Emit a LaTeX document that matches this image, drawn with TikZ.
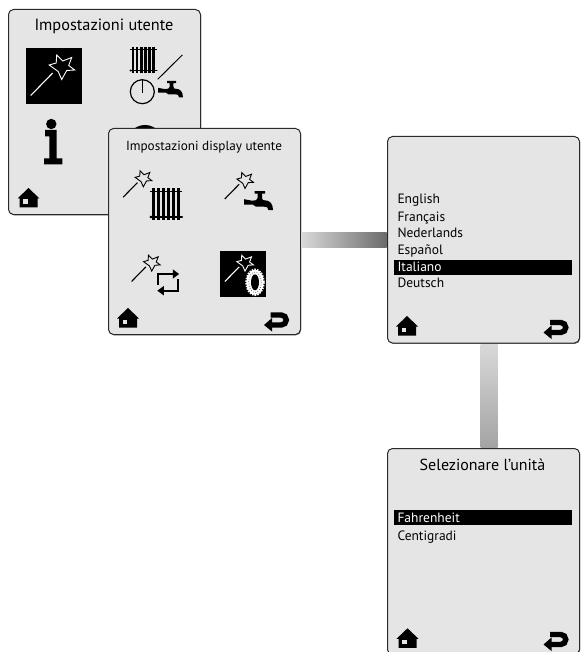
\documentclass[tikz,border=0pt]{standalone}
\usepackage{fontspec}
\setmainfont{PT Sans}
\usetikzlibrary{calc,shadows}
\definecolor{panelbg}{HTML}{E5E5E5}
\definecolor{panelln}{HTML}{2A2A2A}
\tikzset{
  panel/.style={draw=panelln,fill=panelbg,line width=1pt,rounded corners=5pt,inner sep=0pt,anchor=north west,
    drop shadow={shadow xshift=.6pt,shadow yshift=-.8pt,fill=black!55,opacity=1}},
  hl/.style={fill=black,draw=none,inner sep=0pt,anchor=north west,minimum width=178pt,minimum height=15pt},
  titletxt/.style={inner sep=0pt,anchor=base,text=black},
  itemtxt/.style={inner sep=0pt,anchor=base west,text=black,font=\fontsize{13.5}{16}\selectfont},
  blacksq/.style={fill=black,draw=none,inner sep=0pt,anchor=north west},
  pics/wand/.style={code={
    \draw[line width=.9pt,line join=miter] (-5,-12.5) -- (1,-6.5) -- (10,-10) -- (7,-2) -- (13,2.5) -- (5,3) -- (0,12) -- (-3.5,4) -- (-12.5,-2.5) -- (-5.5,-4.5) -- cycle;
    \draw[line width=1.1pt] (-31,28) -- (-9,5.5);
  }},
  pics/radiator/.style={code={
    \foreach \x in {3.2,7.6,12,16.4,20.8,25.2}{\draw[line width=2.6pt] (\x,0) -- (\x,26);}
    \draw[line width=1.6pt] (0,2.5) -- (28.5,2.5);
    \draw[line width=1.6pt,line cap=round] (.5,23.5) -- (28.5,23.5);
    \fill (.8,23.5) circle (1.2);
  }},
  pics/tap/.style={code={
    \fill (0,8.5) -- (0,14) -- (9,14) -- (12,16) -- (20,16) .. controls (23,16) and (24,16.5) .. (24.5,19.5) -- (29,19.5) .. controls (29,13) and (26,9.5) .. (20,9.5) -- (19,9.5) -- (18,7.5) -- (18,3) -- (21,3) -- (21,.5) -- (10.5,.5) -- (10.5,3) -- (13.5,3) -- (13.5,7.5) -- (12,9.5) -- (8,10) -- cycle;
  }},
  pics/home/.style={code={
    \fill (0,0) -- (11,10.5) -- (9,10.5) -- (9,19.5) -- (-9,19.5) -- (-9,10.5) -- (-11,10.5) -- cycle;
    \fill[panelbg] (-5.5,11.5) rectangle (-1,16);
  }},
  pics/retarrow/.style={code={
    \fill (0,13) -- (8,6) -- (8,19.5) -- cycle;
    \draw[line width=5.4pt] (7,13) -- (17.3,13) arc[start angle=90,end angle=-90,radius=5] -- (6.7,3);
  }},
  pics/loopar/.style={code={
    \draw[line width=2.3pt] (1,15.7) -- (1,4.7) -- (16,4.7);
    \fill (21.7,4.7) -- (15.5,0) -- (15.5,9.4) -- cycle;
    \draw[line width=2.3pt] (21,9.9) -- (21,21.4) -- (6,21.4);
    \fill (0,21.4) -- (6.5,16.7) -- (6.5,26.1) -- cycle;
  }},
}
\begin{document}
\begin{tikzpicture}[x=1pt,y=-1pt]
\useasboundingbox (0,0) rectangle (580,652);
% panel 1
\node[panel,minimum width=192pt,minimum height=205pt] (p1) at (8,9) {};
\node[titletxt,font=\fontsize{16.3}{18}\selectfont] (t1) at (104,31) {Impostazioni utente};
\node[blacksq,minimum width=56pt,minimum height=56pt] (sq1) at (26,48) {};
\pic[color=white] at (61.7,67.5) {wand};
\pic[xscale=.94] at (130,47) {radiator};
\draw[line width=1pt] (157.7,79.3) -- (182.3,55);
\draw[line width=1.2pt] (142.3,91.7) circle (12);
\draw[line width=1.2pt] (142.3,80) -- (142.3,93);
\pic[scale=.86] at (158,80.5) {tap};
\fill (51.3,124) circle (5.2);
\fill (45,130) -- (56.7,130) -- (56.7,158.3) -- (62.3,158.3) -- (62.3,164.3) -- (44,164.3) -- (44,158.3) -- (49.3,158.3) -- (49.3,136.5) -- (45,136.5) -- cycle;
\fill (145,143) circle (18);
\pic at (28.5,188) {home};
% other panels
\node[panel,minimum width=192pt,minimum height=206pt] (p2) at (108,128) {};
\node[panel,minimum width=192pt,minimum height=206.5pt] (p3) at (387,136) {};
\node[panel,minimum width=192pt,minimum height=206pt] (p4) at (387,448) {};
% connectors
\shade[left color=black!15,right color=black!58] ($(p2.east)+(.5,1)$) rectangle ($(p3.west |- p2.east)+(-.5,16)$);
\shade[top color=black!15,bottom color=black!36] ($(p3.south)+(-3,.5)$) rectangle ($(p4.north)+(14,-.5)$);
% panel 2 content
\node[titletxt,font=\fontsize{13.2}{16}\selectfont] (t2) at (204,150.5) {Impostazioni display utente};
\pic[scale=.65] at (143.3,179) {wand};
\pic[xscale=1.13,yscale=1.22] at (150,188.3) {radiator};
\pic[scale=.65] at (245,180.7) {wand};
\pic at (244,190.7) {tap};
\pic[scale=.65] at (151.7,263.3) {wand};
\pic at (157.3,269.3) {loopar};
\node[blacksq,minimum width=45.7pt,minimum height=45.7pt] (sq2) at (220,251) {};
\pic[scale=.65,color=white] at (245,263.3) {wand};
\fill[white] (255,282.3) ellipse [x radius=8.6,y radius=12.6];
\draw[white,line width=1.6pt,dash pattern=on 1.5pt off 1.2pt] (255,282.3) ellipse [x radius=9,y radius=13];
\draw[black!70,line width=.6pt,dash pattern=on .8pt off 1.6pt] (255,282.3) ellipse [x radius=6.3,y radius=10.2];
\fill[black] (255,282.3) ellipse [x radius=4,y radius=8];
\pic at (128,308) {home};
\pic at (264,312) {retarrow};
% panel 3 content
\node[hl] (h3) at (394,260) {};
\node[itemtxt] (e1) at (397.3,203.3) {English};
\node[itemtxt] (e2) at (397.3,221) {Français};
\node[itemtxt] (e3) at (397.3,237.7) {Nederlands};
\node[itemtxt] (e4) at (397.3,254) {Español};
\node[itemtxt,text=white] (e5) at (397.3,271) {Italiano};
\node[itemtxt] (e6) at (397.3,287.7) {Deutsch};
\pic at (407,316) {home};
\pic at (543.5,319.5) {retarrow};
% panel 4 content
\node[titletxt,font=\fontsize{16}{18}\selectfont] (t4) at (482.5,470.7) {Selezionare l’unità};
\node[hl] (h4) at (394,510) {};
\node[itemtxt,text=white] (f1) at (397.3,522.3) {Fahrenheit};
\node[itemtxt] (f2) at (397.3,540) {Centigradi};
\pic at (407.5,628.3) {home};
\pic at (543.5,631.5) {retarrow};
\end{tikzpicture}
\end{document}
